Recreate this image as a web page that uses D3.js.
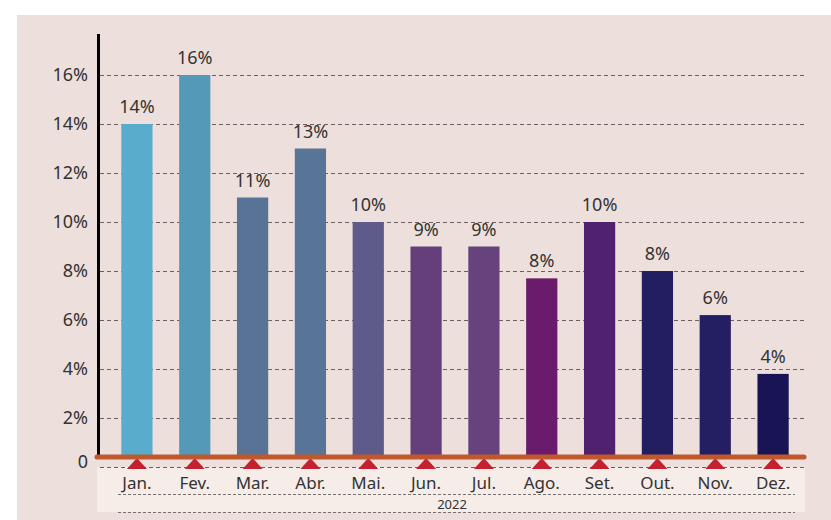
<!DOCTYPE html>
<html>
<head>
<meta charset="utf-8">
<script src="https://cdn.jsdelivr.net/npm/d3@7"></script>
<style>
  body { margin: 0; background: #ffffff; }
  svg text { font-family: "Noto Sans", sans-serif; fill: #333333; }
</style>
</head>
<body>
<div id="sv"></div>
<script>
// chart data
var months = ["Jan.", "Fev.", "Mar.", "Abr.", "Mai.", "Jun.", "Jul.", "Ago.", "Set.", "Out.", "Nov.", "Dez."];
var values = [14.0, 16.0, 11.0, 13.0, 10.0, 9.0, 9.0, 7.7, 10.0, 8.0, 6.2, 3.8];
var barColors = ["#5aaccd", "#5599b8", "#587396", "#587497", "#5e5b8a", "#643f7c",
                 "#66437d", "#6a1b6c", "#4f216e", "#231e62", "#241f63", "#181456"];
var yTicks = [0, 2, 4, 6, 8, 10, 12, 14, 16];
var yearLabel = "2022";

window.onload = function()
{
var width = 831, height = 520;

var svg = d3.select("#sv")
    .append("svg")
    .attr("width", width)
    .attr("height", height);

// panel background
svg.append("rect")
    .attr("x", 17).attr("y", 15)
    .attr("width", width - 17).attr("height", height - 15)
    .attr("fill", "#ede0dc");

var x = d3.scaleBand()
    .domain(months)
    .range([108, 802])
    .paddingInner(0.46)
    .paddingOuter(0.23);

var y = d3.scaleLinear()
    .domain([0, 16])
    .range([467, 75]);

var baseY = y(0) - 10;   // where the orange axis sits

// light strip under the axis for month labels
svg.append("rect")
    .attr("x", 97).attr("y", y(0))
    .attr("width", 708).attr("height", 45)
    .attr("fill", "#f6ece8");

// dashed gridlines
svg.append("g")
    .selectAll("line")
    .data(yTicks)
    .join("line")
    .attr("x1", 100).attr("x2", 805)
    .attr("y1", function(d) { return Math.round(y(d)) + 0.5; })
    .attr("y2", function(d) { return Math.round(y(d)) + 0.5; })
    .attr("stroke", "#6b5f5f")
    .attr("stroke-width", 1)
    .attr("stroke-dasharray", "4,3");

// y tick labels
svg.append("g")
    .selectAll("text")
    .data(yTicks)
    .join("text")
    .attr("x", 88)
    .attr("y", function(d) { return d === 0 ? baseY + 11 : y(d) + 6; })
    .attr("text-anchor", "end")
    .style("font-size", "18px")
    .text(function(d) { return d === 0 ? "0" : d + "%"; });

// bars
svg.append("g")
    .selectAll("rect")
    .data(values)
    .join("rect")
    .attr("x", function(d, i) { return x(months[i]); })
    .attr("y", function(d) { return y(d); })
    .attr("width", x.bandwidth())
    .attr("height", function(d) { return baseY - y(d); })
    .attr("fill", function(d, i) { return barColors[i]; });

// value labels
svg.append("g")
    .selectAll("text")
    .data(values)
    .join("text")
    .attr("x", function(d, i) { return x(months[i]) + x.bandwidth() / 2; })
    .attr("y", function(d) { return y(d) - 11; })
    .attr("text-anchor", "middle")
    .style("font-size", "18px")
    .text(function(d) { return Math.round(d) + "%"; });

// black y axis line
svg.append("line")
    .attr("x1", 98.5).attr("x2", 98.5)
    .attr("y1", 34).attr("y2", baseY)
    .attr("stroke", "#000000")
    .attr("stroke-width", 3);

// red triangles under each month
svg.append("g")
    .selectAll("path")
    .data(months)
    .join("path")
    .attr("d", function(d) {
        var cx = x(d) + x.bandwidth() / 2;
        return "M" + (cx - 10) + "," + (y(0) + 2) + "L" + cx + "," + (baseY + 1) + "L" + (cx + 10) + "," + (y(0) + 2) + "Z";
    })
    .attr("fill", "#c4202f");

// orange baseline
svg.append("line")
    .attr("x1", 97).attr("x2", 804)
    .attr("y1", baseY).attr("y2", baseY)
    .attr("stroke", "#c0582d")
    .attr("stroke-width", 5)
    .attr("stroke-linecap", "round");

// month labels
svg.append("g")
    .selectAll("text")
    .data(months)
    .join("text")
    .attr("x", function(d) { return x(d) + x.bandwidth() / 2; })
    .attr("y", y(0) + 22)
    .attr("text-anchor", "middle")
    .style("font-size", "17px")
    .text(function(d) { return d; });

// dashed lines around the year row
svg.append("g")
    .selectAll("line")
    .data([y(0) + 27, y(0) + 45])
    .join("line")
    .attr("x1", 118).attr("x2", 795)
    .attr("y1", function(d) { return Math.round(d) + 0.5; })
    .attr("y2", function(d) { return Math.round(d) + 0.5; })
    .attr("stroke", "#777070")
    .attr("stroke-width", 1)
    .attr("stroke-dasharray", "3,2");

svg.append("text")
    .attr("x", 452)
    .attr("y", y(0) + 42)
    .attr("text-anchor", "middle")
    .style("font-size", "13px")
    .text(yearLabel);
}
</script>
</body>
</html>
